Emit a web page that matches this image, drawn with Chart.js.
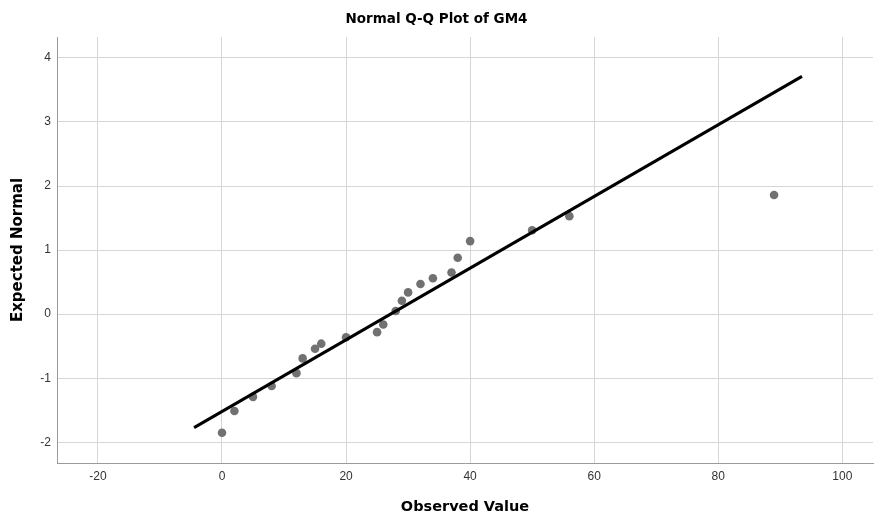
<!DOCTYPE html>
<html>
<head>
<meta charset="utf-8">
<script src="https://cdn.jsdelivr.net/npm/chart.js@4.4.0/dist/chart.umd.min.js"></script>
<style>
  html, body { margin: 0; padding: 0; background: #fff; overflow: hidden; }
  #wrap { width: 874px; height: 516px; position: relative; }
</style>
</head>
<body>
<div id="wrap"><canvas id="c"></canvas></div>
<script>
// Observed values (x) and expected normal quantiles (y)
const observed = [0, 2, 5, 8, 12, 13, 15, 16, 20, 25, 26, 28, 29, 30, 32, 34, 37, 38, 40, 50, 56, 89];
const expectedNormal = [-1.85, -1.51, -1.29, -1.12, -0.92, -0.69, -0.54, -0.46, -0.36, -0.28, -0.16, 0.05, 0.21, 0.34, 0.47, 0.56, 0.65, 0.88, 1.14, 1.31, 1.53, 1.86];
// Reference line endpoints
const lineX = [-4.5, 93.5];
const lineY = [-1.77, 3.71];
// Tick labels
const xTicks = [-20, 0, 20, 40, 60, 80, 100];
const yTicks = [-2, -1, 0, 1, 2, 3, 4];

const points = observed.map((x, i) => ({ x: x, y: expectedNormal[i] }));
const linePts = lineX.map((x, i) => ({ x: x, y: lineY[i] }));

const FONT = "'Liberation Sans', Arial, sans-serif";
const BOLD = "'DejaVu Sans', 'Liberation Sans', Arial, sans-serif";

new Chart(document.getElementById('c'), {
  type: 'scatter',
  data: {
    datasets: [
      {
        label: 'Line',
        data: linePts,
        showLine: true,
        borderColor: '#000000',
        borderWidth: 3,
        pointRadius: 0,
        fill: false,
        order: 0
      },
      {
        label: 'Observed',
        data: points,
        backgroundColor: '#717171',
        borderColor: '#717171',
        pointRadius: 4.3,
        borderWidth: 0,
        order: 1
      }
    ]
  },
  options: {
    responsive: true,
    maintainAspectRatio: false,
    animation: false,
    layout: { autoPadding: false, padding: { left: 0, right: 1, top: 0, bottom: 0 } },
    plugins: {
      legend: { display: false },
      tooltip: { enabled: false },
      title: {
        display: true,
        text: 'Normal Q-Q Plot of GM4',
        color: '#000',
        font: { family: BOLD, size: 13.5, weight: 'bold' },
        padding: { top: 11, bottom: 9.8 }
      }
    },
    scales: {
      x: {
        type: 'linear',
        min: -26.6,
        max: 104.95,
        afterBuildTicks: (s) => { s.ticks = xTicks.map(v => ({ value: v })); },
        afterFit: (s) => { s.height = 53; s.paddingLeft = 0; s.paddingRight = 0; },
        grid: { color: '#d6d6d6', lineWidth: 1, drawTicks: false },
        border: { color: '#9a9a9a', width: 1 },
        ticks: { color: '#333', font: { family: FONT, size: 12 }, padding: 6, maxRotation: 0 },
        title: {
          display: true,
          text: 'Observed Value',
          color: '#000',
          font: { family: BOLD, size: 14.5, weight: 'bold' },
          padding: { top: 0, bottom: 0 }
        }
      },
      y: {
        type: 'linear',
        min: -2.322,
        max: 4.325,
        afterBuildTicks: (s) => { s.ticks = yTicks.map(v => ({ value: v })); },
        afterFit: (s) => { s.width = 57; s.paddingTop = 0; s.paddingBottom = 0; },
        grid: { color: '#d6d6d6', lineWidth: 1, drawTicks: false },
        border: { color: '#9a9a9a', width: 1 },
        ticks: { color: '#333', font: { family: FONT, size: 12 }, padding: 6 },
        title: {
          display: true,
          text: 'Expected Normal',
          color: '#000',
          font: { family: BOLD, size: 15, weight: 'bold' },
          padding: { top: 9.5, bottom: 0 }
        }
      }
    }
  }
});
</script>
</body>
</html>
